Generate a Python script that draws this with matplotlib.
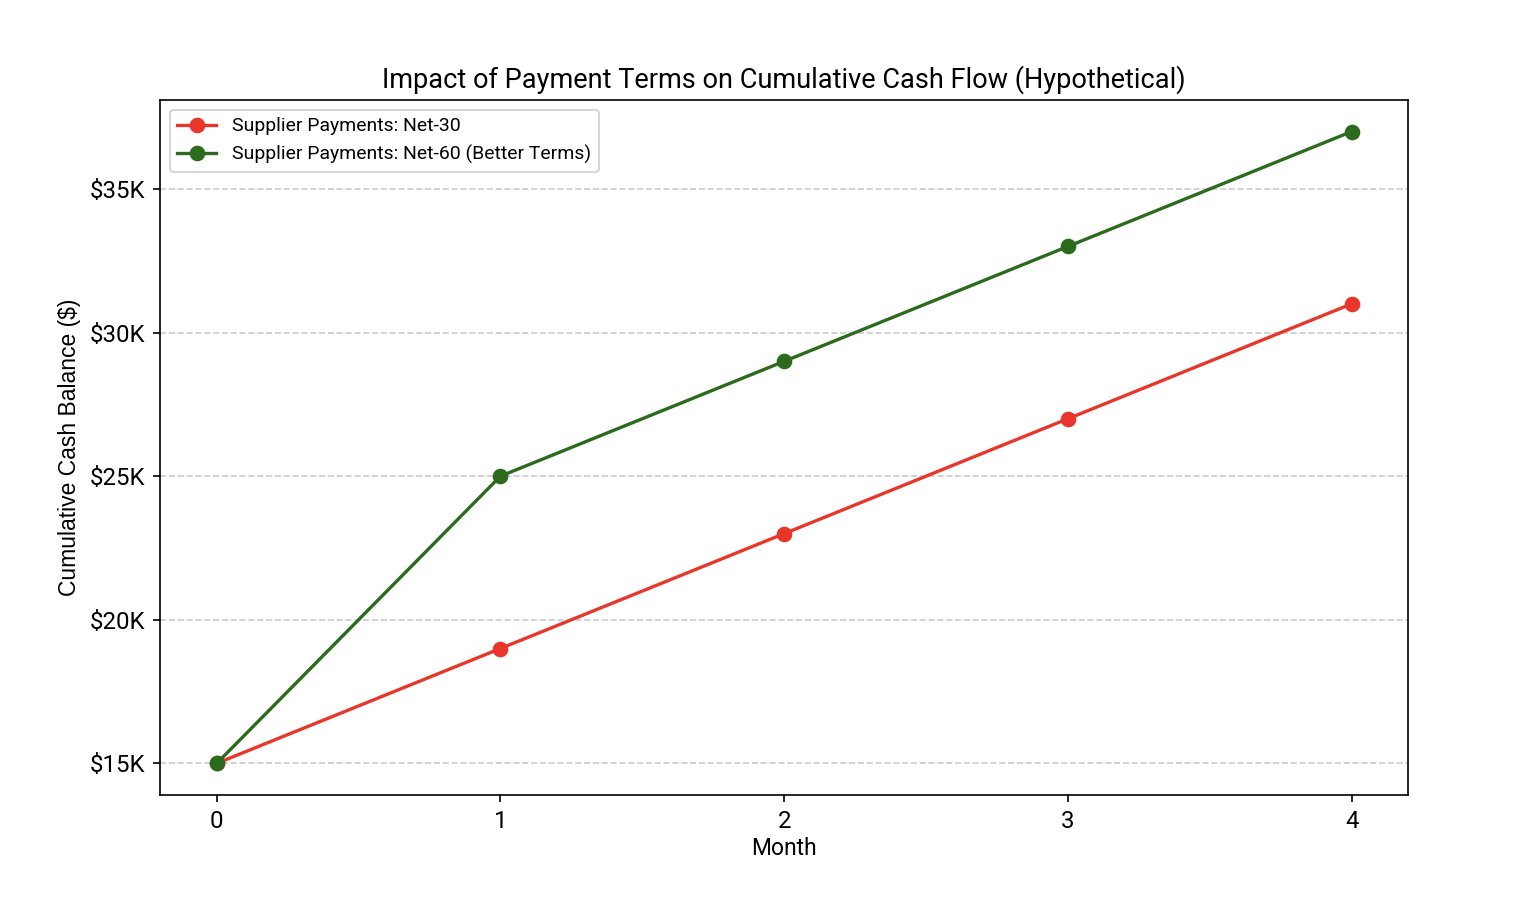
import matplotlib
matplotlib.use('Agg')
import matplotlib.pyplot as plt
from matplotlib.ticker import FuncFormatter

months = [0, 1, 2, 3, 4]
net30 = [15000, 19000, 23000, 27000, 31000]
net60 = [15000, 25000, 29000, 33000, 37000]
labels = ['Supplier Payments: Net-30', 'Supplier Payments: Net-60 (Better Terms)']
colors = ['#e8372a', '#2c6a1e']

plt.rcParams['font.family'] = ['Roboto', 'DejaVu Sans']

fig = plt.figure(figsize=(10.107, 6.067), dpi=150)
ax = fig.add_axes([0.1055, 0.1264, 0.8235, 0.7637])

ax.plot(months, net30, marker='o', color=colors[0], linewidth=1.6, markersize=6.5, label=labels[0])
ax.plot(months, net60, marker='o', color=colors[1], linewidth=1.6, markersize=6.5, label=labels[1])

ax.set_xticks(months)
ax.set_yticks([15000, 20000, 25000, 30000, 35000])
ax.yaxis.set_major_formatter(FuncFormatter(lambda v, p: '$%dK' % int(v / 1000)))
ax.set_ylim(13900, 38100)
ax.set_xlim(-0.2, 4.2)
ax.grid(axis='y', linestyle='--', color='#cccccc', linewidth=0.8)
ax.tick_params(labelsize=11.5)

ax.set_title('Impact of Payment Terms on Cumulative Cash Flow (Hypothetical)', fontsize=13)
ax.set_xlabel('Month', fontsize=11, labelpad=2)
ax.set_ylabel('Cumulative Cash Balance ($)', fontsize=11, family=['Liberation Sans', 'DejaVu Sans'])
ax.legend(loc='upper left', fontsize=9.3)

fig.savefig('out.png', dpi=150)
